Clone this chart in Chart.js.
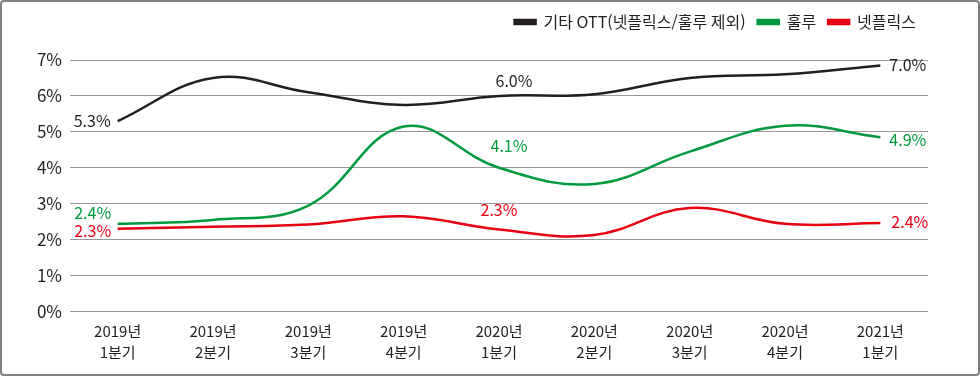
<!DOCTYPE html>
<html lang="ko">
<head>
<meta charset="UTF-8" />
<title>OTT 점유율</title>
<style>
  html, body { margin: 0; padding: 0; background: #fff; }
  .wrap {
    width: 980px; height: 376px; box-sizing: border-box;
    border: 2px solid #808080; border-radius: 4px; position: relative;
  }
  canvas { display: block; }
</style>
</head>
<body>
<div class="wrap">
  <canvas id="chart" width="976" height="372"></canvas>
</div>
<script src="https://cdn.jsdelivr.net/npm/chart.js"></script>
<script>
  const quarters = [
    ['2019년', '1분기'], ['2019년', '2분기'], ['2019년', '3분기'], ['2019년', '4분기'],
    ['2020년', '1분기'], ['2020년', '2분기'], ['2020년', '3분기'], ['2020년', '4분기'],
    ['2021년', '1분기']
  ];
  const otherOtt = [5.3, 6.5, 6.1, 5.75, 6.0, 6.05, 6.5, 6.6, 6.85];
  const hulu     = [2.44, 2.55, 2.95, 5.15, 4.0, 3.55, 4.45, 5.17, 4.85];
  const netflix  = [2.3, 2.36, 2.42, 2.65, 2.28, 2.13, 2.88, 2.44, 2.46];
  const yTicks = [0, 1, 2, 3, 4, 5, 6, 7];

  // 값 라벨: [시리즈, 인덱스, 텍스트, dx, dy, 정렬]
  const valueLabels = [
    [0, 0, '5.3%', -7, 0, 'right'],
    [0, 4, '6.0%', 15, -15, 'center'],
    [0, 8, '7.0%', 9, 0, 'left'],
    [1, 0, '2.4%', -25, -11, 'center'],
    [1, 4, '4.1%', 10, -22, 'center'],
    [1, 8, '4.9%', 9, 3, 'left'],
    [2, 0, '2.3%', -25, 2, 'center'],
    [2, 4, '2.3%', 0, -20, 'center'],
    [2, 8, '2.4%', 11, -1, 'left']
  ];

  const fontFamily = '"Noto Sans CJK KR", "Noto Sans", sans-serif';

  const labelPlugin = {
    id: 'valueLabels',
    afterDatasetsDraw(chart) {
      const ctx = chart.ctx;
      ctx.save();
      ctx.font = '16px ' + fontFamily;
      ctx.textBaseline = 'middle';
      valueLabels.forEach(([ds, i, text, dx, dy, align]) => {
        const pt = chart.getDatasetMeta(ds).data[i];
        ctx.fillStyle = chart.data.datasets[ds].borderColor;
        ctx.textAlign = align;
        ctx.fillText(text, pt.x + dx, pt.y + dy);
      });
      ctx.restore();
    }
  };

  // 범례 아래 여백
  const legendGap = {
    id: 'legendGap',
    beforeInit(chart) {
      const fit = chart.legend.fit;
      chart.legend.fit = function () {
        fit.bind(chart.legend)();
        this.height += 20;
      };
    }
  };

  new Chart(document.getElementById('chart'), {
    type: 'line',
    data: {
      labels: quarters,
      datasets: [
        { label: '기타 OTT(넷플릭스/훌루 제외)', data: otherOtt, borderColor: '#231f20' },
        { label: '훌루', data: hulu, borderColor: '#009a3e' },
        { label: '넷플릭스', data: netflix, borderColor: '#e60012' }
      ].map(d => Object.assign(d, {
        backgroundColor: d.borderColor, borderWidth: 2.5, tension: 0.4,
        pointRadius: 0, fill: false
      }))
    },
    options: {
      responsive: false,
      animation: false,
      layout: { padding: { top: 0, right: 50, bottom: 10, left: 0 } },
      plugins: {
        tooltip: { enabled: false },
        legend: {
          position: 'top', align: 'end',
          labels: {
            boxWidth: 21, boxHeight: 4,
            color: '#231f20', font: { family: fontFamily, size: 16 }, padding: 12
          }
        }
      },
      scales: {
        x: {
          offset: true,
          grid: { display: false },
          border: { display: false },
          ticks: { color: '#231f20', font: { family: fontFamily, size: 15, lineHeight: 1.35 }, maxRotation: 0, padding: 2 }
        },
        y: {
          min: 0, max: 7,
          afterBuildTicks(axis) { axis.ticks = yTicks.map(v => ({ value: v })); },
          afterFit(axis) { axis.width = 68; },
          grid: { color: '#999', lineWidth: 1, drawTicks: false },
          border: { display: false },
          ticks: {
            color: '#231f20', padding: 8,
            font: { family: fontFamily, size: 17 },
            callback: v => v + '%'
          }
        }
      }
    },
    plugins: [labelPlugin, legendGap]
  });
</script>
</body>
</html>
